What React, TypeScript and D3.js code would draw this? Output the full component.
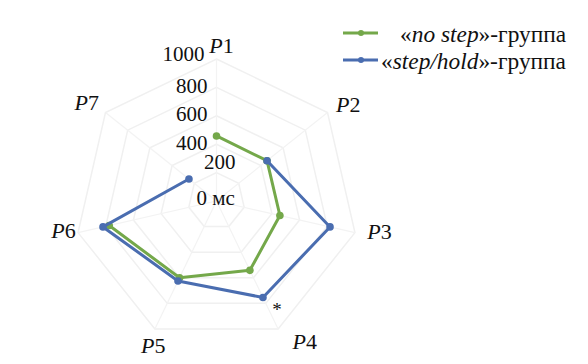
import React, { useEffect, useRef } from "react";
import * as d3 from "d3";

const categories = ["1", "2", "3", "4", "5", "6", "7"];
const noStep: (number | null)[] = [458, 455, 458, 542, 600, 775, null];
const stepHold: (number | null)[] = [null, 455, 820, 754, 625, 820, 248];
const ticks = [0, 200, 400, 600, 800, 1000];

const GREEN = "#74a84a";
const BLUE = "#4a6db0";
const FONT = "Liberation Serif";

const RadarChart: React.FC = () => {
  const svgRef = useRef<SVGSVGElement | null>(null);

  useEffect(() => {
    if (!svgRef.current) return;
    const svg = d3.select(svgRef.current);
    svg.selectAll("*").remove();

    const cx = 216.5;
    const cy = 201;
    const r = d3.scaleLinear().domain([0, 1000]).range([0, 142]);
    const n = categories.length;
    const angle = (i: number) => -Math.PI / 2 + (i * 2 * Math.PI) / n;
    const pt = (i: number, v: number): [number, number] => [
      cx + r(v) * Math.cos(angle(i)),
      cy + r(v) * Math.sin(angle(i)),
    ];

    const g = svg.append("g");

    // grid rings
    ticks.slice(1).forEach((t) => {
      const pts = categories.map((_, i) => pt(i, t));
      g.append("polygon")
        .attr("points", pts.map((p) => p.join(",")).join(" "))
        .attr("fill", "none")
        .attr("stroke", "#f0f0f0")
        .attr("stroke-width", 1.5);
    });
    categories.forEach((_, i) => {
      const [x, y] = pt(i, 1000);
      g.append("line")
        .attr("x1", cx).attr("y1", cy).attr("x2", x).attr("y2", y)
        .attr("stroke", "#f3f3f3")
        .attr("stroke-width", 1.2);
    });

    // tick labels (200 and "0 мс" sit off the usual column in the original)
    const tickShift: Record<number, [number, number]> = { 200: [28, -9], 1000: [-3, -3] };
    ticks.forEach((t) => {
      if (t === 0) {
        g.append("text")
          .attr("x", cx - 20)
          .attr("y", cy - 3)
          .attr("dy", "0.35em")
          .attr("font-family", FONT)
          .attr("font-size", 21)
          .attr("fill", "#111")
          .text("0 мс");
        return;
      }
      const [sx, sy] = tickShift[t] || [0, 0];
      g.append("text")
        .attr("x", cx - 9 + sx)
        .attr("y", cy - r(t) - 2 + sy)
        .attr("dy", "0.35em")
        .attr("text-anchor", "end")
        .attr("font-family", FONT)
        .attr("font-size", 21)
        .attr("fill", "#111")
        .text(t);
    });

    // series
    const drawSeries = (vals: (number | null)[], color: string) => {
      const line = d3
        .line<number | null>()
        .defined((d) => d !== null)
        .x((d, i) => pt(i, d as number)[0])
        .y((d, i) => pt(i, d as number)[1]);
      g.append("path")
        .attr("d", line(vals))
        .attr("fill", "none")
        .attr("stroke", color)
        .attr("stroke-width", 3)
        .attr("stroke-linejoin", "round");
      vals.forEach((v, i) => {
        if (v === null) return;
        const [x, y] = pt(i, v);
        g.append("circle").attr("cx", x).attr("cy", y).attr("r", 3.8).attr("fill", color);
      });
    };
    drawSeries(noStep, GREEN);
    drawSeries(stepHold, BLUE);

    // significance mark at P4
    const [ax, ay] = pt(3, stepHold[3] as number);
    g.append("text")
      .attr("x", ax + 14)
      .attr("y", ay + 19)
      .attr("text-anchor", "middle")
      .attr("font-family", FONT)
      .attr("font-size", 19)
      .attr("fill", "#111")
      .text("*");

    // axis labels
    const nudge: [number, number][] = [[5, 6], [5, 4], [5, -6], [18, -6], [7, -2], [5, -7], [-3, 2]];
    categories.forEach((c, i) => {
      const [x, y] = pt(i, 1000 * 162 / 142);
      const t = g.append("text")
        .attr("x", x + nudge[i][0])
        .attr("y", y + nudge[i][1])
        .attr("dy", "0.35em")
        .attr("text-anchor", "middle")
        .attr("font-family", FONT)
        .attr("font-size", 22)
        .attr("fill", "#111");
      t.append("tspan").attr("font-style", "italic").text("P");
      t.append("tspan").text(c);
    });

    // legend
    const legend = [
      { color: GREEN, y: 34, x: 400, parts: ["«", "no step", "»-группа"] },
      { color: BLUE, y: 61, x: 381, parts: ["«", "step/hold", "»-группа"] },
    ];
    legend.forEach((l) => {
      const lg = svg.append("g");
      lg.append("line")
        .attr("x1", 343).attr("x2", 378).attr("y1", l.y - 1).attr("y2", l.y - 1)
        .attr("stroke", l.color).attr("stroke-width", 3);
      lg.append("circle").attr("cx", 361).attr("cy", l.y - 1).attr("r", 3).attr("fill", l.color);
      const t = lg.append("text")
        .attr("transform", `translate(${l.x},${l.y}) scale(1.04,1)`)
        .attr("dy", "0.35em")
        .attr("font-family", FONT)
        .attr("font-size", 22.5)
        .attr("fill", "#111");
      t.append("tspan").text(l.parts[0]);
      t.append("tspan").attr("font-style", "italic").text(l.parts[1]);
      t.append("tspan").text(l.parts[2]);
    });
  }, []);

  return (
    <svg
      ref={svgRef}
      width={588}
      height={364}
      fontFamily={FONT}
      style={{ position: "absolute", left: 0, top: 0, background: "#fff" }}
    />
  );
};

export default function App() {
  return <RadarChart />;
}
